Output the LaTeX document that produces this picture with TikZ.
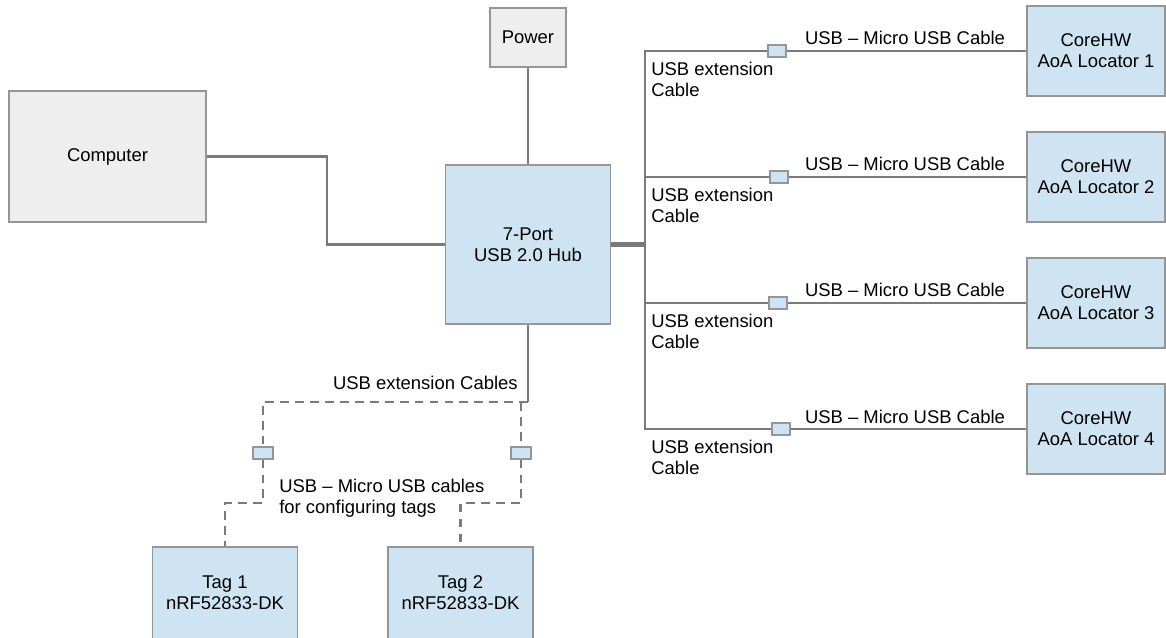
\documentclass[tikz,border=0pt]{standalone}
\usepackage{fontspec}
\setmainfont{Liberation Sans}
\usetikzlibrary{calc}
\definecolor{boxblue}{RGB}{206,228,243}
\definecolor{boxgray}{RGB}{238,238,238}
\definecolor{boxline}{RGB}{150,150,150}
\definecolor{cableline}{RGB}{122,122,122}

\begin{document}
\begin{tikzpicture}[x = 0.02cm, y = -0.02cm,
	every node/.style = {font = \fontsize{10.5}{12}\selectfont},
	blk/.style = {draw = boxline, line width = 0.8pt, fill = boxblue, align = center, inner sep = 0pt},
	gblk/.style = {blk, fill = boxgray},
	loc/.style = {blk, minimum width = 2.76cm, minimum height = 1.8cm},
	tagbox/.style = {blk, minimum width = 2.9cm, minimum height = 1.84cm},
	plug/.style = {draw = boxline, line width = 0.7pt, fill = boxblue, minimum width = 0.36cm, minimum height = 0.24cm, inner sep = 0pt},
	cable/.style = {draw = cableline, line width = 1.3pt},
	dashcable/.style = {cable, dash pattern = on 5pt off 3.5pt},
	lbl/.style = {inner sep = 0pt, align = left}]
\useasboundingbox (0, 0) rectangle (1166, 638);

\node[gblk, minimum width = 1.52cm, minimum height = 1.18cm] (pwr) at (528, 37.5) {Power};
\node[gblk, minimum width = 3.94cm, minimum height = 2.62cm] (comp) at (107.5, 156.5) {Computer};
\node[blk, minimum width = 3.3cm, minimum height = 3.18cm] (hub) at (528, 244.5) {7-Port\\USB 2.0 Hub};

\node[loc] (loc1) at (1096, 51) {CoreHW\\AoA Locator 1};
\node[loc] (loc2) at (1096, 177) {CoreHW\\AoA Locator 2};
\node[loc] (loc3) at (1096, 303) {CoreHW\\AoA Locator 3};
\node[loc] (loc4) at (1096, 429) {CoreHW\\AoA Locator 4};
\node[tagbox] (tag1) at (225, 593) {Tag 1\\nRF52833-DK};
\node[tagbox] (tag2) at (460.5, 593) {Tag 2\\nRF52833-DK};

\node[plug] (usb1) at (777, 51) {};
\node[plug] (usb2) at (779, 177) {};
\node[plug] (usb3) at (778, 303) {};
\node[plug] (usb4) at (781, 429) {};
\node[plug, minimum width = 0.4cm] (tplugA) at (263, 453) {};
\node[plug, minimum width = 0.4cm] (tplugB) at (521, 453) {};

\draw[cable] (pwr) -- (hub);
\draw[cable] (comp.east) -- ++(120, 0) |- (hub.west);
\coordinate (trunk) at (645, 244.5);
\draw[cable, line width = 2.3pt] (hub.east) -- (trunk);
\draw[cable] (loc1) -- (usb1) -- (trunk |- usb1) -- (trunk |- usb4) -- (usb4) -- (loc4);
\draw[cable] (trunk |- usb2) -- (usb2) -- (loc2);
\draw[cable] (trunk |- usb3) -- (usb3) -- (loc3);

\coordinate (split) at (528, 402);
\coordinate (splitB) at (521, 402);
\coordinate (jA) at (263, 503);
\coordinate (jB) at (521, 503);
\draw[cable] (hub) -- (split);
\draw[dashcable] (split) -| (tplugA);
\draw[dashcable] (tplugA) -- (jA) -| (tag1.north);
\draw[dashcable] (splitB) -- (tplugB);
\draw[dashcable] (tplugB) -- (jB) -| (tag2.north);

\node[lbl, anchor = north west] (ext1) at (651, 61.5) {USB extension\\Cable};
\node[lbl, anchor = north west] (ext2) at (651, 187.5) {USB extension\\Cable};
\node[lbl, anchor = north west] (ext3) at (651, 313.5) {USB extension\\Cable};
\node[lbl, anchor = north west] (ext4) at (651, 439.5) {USB extension\\Cable};
\node[lbl, anchor = base] (micro1) at (905, 45) {USB – Micro USB Cable};
\node[lbl, anchor = base] (micro2) at (905, 171) {USB – Micro USB Cable};
\node[lbl, anchor = base] (micro3) at (905, 297) {USB – Micro USB Cable};
\node[lbl, anchor = base] (micro4) at (905, 423) {USB – Micro USB Cable};
\node[lbl, anchor = base east] (extcables) at (518, 389.5) {USB extension Cables};
\node[lbl, anchor = north west] (tagcables) at (279, 478.5) {USB – Micro USB cables\\for configuring tags};
\end{tikzpicture}
\end{document}
